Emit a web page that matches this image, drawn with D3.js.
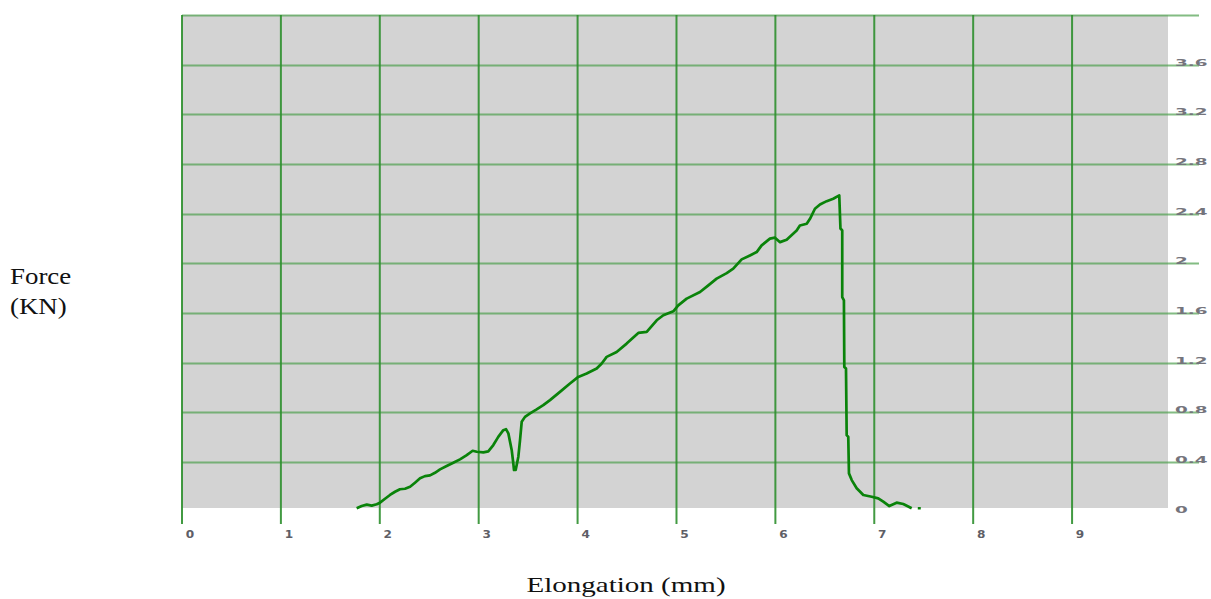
<!DOCTYPE html>
<html>
<head>
<meta charset="utf-8">
<script src="https://cdn.jsdelivr.net/npm/d3@7"></script>
<style>
  html, body { margin: 0; padding: 0; background: #ffffff; }
  svg { display: block; }
</style>
</head>
<body>
<svg id="chart" width="1211" height="599"></svg>
<script>
// ---- data ----
const xTicks = [0, 1, 2, 3, 4, 5, 6, 7, 8, 9];
const yTicks = [0, 0.4, 0.8, 1.2, 1.6, 2, 2.4, 2.8, 3.2, 3.6];
const yTickLabels = ["0", "0.4", "0.8", "1.2", "1.6", "2", "2.4", "2.8", "3.2", "3.6"];
const elongation = [1.766,1.817,1.868,1.918,1.969,2.002,2.053,2.103,2.154,2.204,2.255,2.306,2.356,2.407,2.457,2.508,2.558,2.609,2.676,2.743,2.811,2.879,2.939,2.980,3.047,3.097,3.148,3.198,3.249,3.276,3.300,3.334,3.350,3.357,3.374,3.401,3.418,3.435,3.468,3.519,3.586,3.653,3.721,3.822,3.923,4.007,4.092,4.193,4.244,4.294,4.395,4.496,4.614,4.699,4.800,4.867,4.968,5.018,5.103,5.238,5.322,5.406,5.508,5.574,5.659,5.743,5.811,5.861,5.945,5.996,6.047,6.114,6.215,6.248,6.317,6.350,6.400,6.451,6.519,6.585,6.646,6.658,6.676,6.676,6.693,6.697,6.714,6.721,6.737,6.744,6.772,6.822,6.889,6.974,7.040,7.091,7.152,7.226,7.293,7.378,7.40,7.44,7.47];
const force = [0.028,0.046,0.057,0.049,0.060,0.073,0.105,0.135,0.161,0.181,0.185,0.201,0.234,0.269,0.287,0.293,0.314,0.341,0.368,0.394,0.422,0.456,0.491,0.483,0.478,0.486,0.537,0.603,0.657,0.665,0.631,0.496,0.390,0.336,0.336,0.443,0.577,0.724,0.764,0.792,0.824,0.858,0.899,0.965,1.033,1.086,1.113,1.153,1.194,1.247,1.287,1.354,1.440,1.448,1.542,1.582,1.614,1.662,1.716,1.769,1.823,1.877,1.922,1.957,2.032,2.064,2.091,2.145,2.199,2.207,2.171,2.191,2.265,2.305,2.319,2.359,2.440,2.474,2.501,2.520,2.547,2.281,2.265,1.729,1.703,1.166,1.153,0.617,0.603,0.309,0.255,0.189,0.135,0.121,0.108,0.081,0.046,0.073,0.062,0.028,null,0.028,0.028];
const xTitle = "Elongation (mm)";
const yTitleLines = ["Force", "(KN)"];

// ---- layout ----
const svg = d3.select("#chart");
const pLeft = 182, pRight = 1168, pTop = 15, pBottom = 508;
const x = d3.scaleLinear().domain([0, 9.97]).range([pLeft, pRight]);
const y = d3.scaleLinear().domain([0, 4]).range([511.75, pTop]);

// background
svg.append("rect")
  .attr("x", pLeft).attr("y", pTop)
  .attr("width", pRight - pLeft).attr("height", pBottom - pTop)
  .attr("fill", "#d3d3d3");

// horizontal grid lines (with right-side ticks)
const hLines = yTicks.filter(v => v > 0).concat([4]);
svg.append("g").selectAll("line").data(hLines).join("line")
  .attr("x1", pLeft).attr("x2", 1199)
  .attr("y1", d => Math.round(y(d)) + 0.5).attr("y2", d => Math.round(y(d)) + 0.5)
  .attr("stroke", "#4fa04f").attr("stroke-opacity", 0.7).attr("stroke-width", 2);

// vertical grid lines (extend below as ticks)
svg.append("g").selectAll("line").data(xTicks).join("line")
  .attr("x1", d => x(d)).attr("x2", d => x(d))
  .attr("y1", pTop).attr("y2", 524)
  .attr("stroke", "#2e8f2e").attr("stroke-opacity", 0.9).attr("stroke-width", 2);

// x tick labels
svg.append("g").selectAll("text").data(xTicks).join("text")
  .attr("transform", d => `translate(${x(d) + 8},538) scale(1.1,1)`)
  .attr("text-anchor", "middle")
  .attr("font-family", "DejaVu Sans, Verdana, sans-serif")
  .attr("font-size", 11).attr("font-weight", "bold")
  .attr("fill", "#5e5e66")
  .text(d => d);

// y tick labels (right side, stretched horizontally like the original)
svg.append("g").selectAll("text").data(yTicks).join("text")
  .attr("transform", d => `translate(1175,${y(d) + 1}) scale(2.3,1)`)
  .attr("font-family", "DejaVu Sans, Verdana, sans-serif")
  .attr("font-size", 8).attr("font-weight", "bold")
  .attr("fill", "#74747c")
  .text((d, i) => yTickLabels[i]);

// curve
const pts = elongation.map((e, i) => [e, force[i]]);
const line = d3.line()
  .defined(d => d[1] !== null)
  .x(d => x(d[0])).y(d => y(d[1]));
svg.append("path")
  .datum(pts)
  .attr("d", line)
  .attr("fill", "none")
  .attr("stroke", "#0a830a")
  .attr("stroke-width", 2.7)
  .attr("stroke-linejoin", "round");

// titles
svg.append("text")
  .attr("transform", "translate(626,592) scale(1.32,1)")
  .attr("text-anchor", "middle")
  .attr("font-family", "Liberation Serif, Times New Roman, serif")
  .attr("font-size", 22).attr("fill", "#111")
  .text(xTitle);

svg.append("g").selectAll("text").data(yTitleLines).join("text")
  .attr("transform", (d, i) => `translate(10,${284 + i * 30}) scale(1.12,1)`)
  .attr("font-family", "Liberation Serif, Times New Roman, serif")
  .attr("font-size", 24).attr("fill", "#111")
  .text(d => d);
</script>
</body>
</html>
